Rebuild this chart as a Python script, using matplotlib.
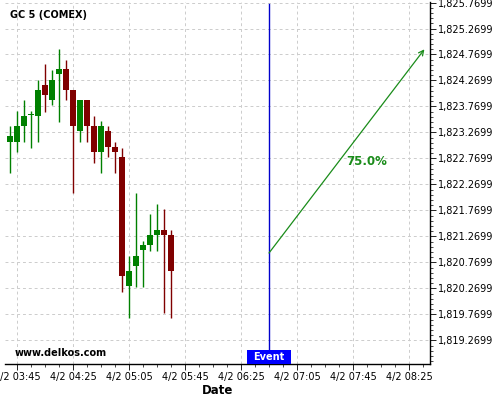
import matplotlib
matplotlib.use("Agg")
import matplotlib.pyplot as plt
import matplotlib.dates as mdates
from matplotlib.ticker import FixedLocator, FuncFormatter
from matplotlib.patches import Rectangle
import matplotlib.transforms as mtransforms
import numpy as np
import datetime as dt

# ---- data ----
start_time = "2023-04-02 03:40"
candle_minutes = 5
opens  = [1823.09, 1823.09, 1823.39, 1823.60, 1823.58, 1824.18, 1823.89, 1824.40,
          1824.49, 1824.08, 1823.30, 1823.89, 1823.39, 1822.90, 1823.30, 1822.99,
          1822.80, 1820.32, 1820.70, 1821.01, 1821.10, 1821.30, 1821.39, 1821.30]
closes = [1823.20, 1823.39, 1823.58, 1823.60, 1824.08, 1823.99, 1824.28, 1824.49,
          1824.08, 1823.39, 1823.89, 1823.39, 1822.90, 1823.39, 1822.99, 1822.90,
          1820.51, 1820.60, 1820.90, 1821.10, 1821.30, 1821.39, 1821.30, 1820.61]
highs  = [1823.39, 1823.69, 1823.89, 1823.68, 1824.28, 1824.58, 1824.48, 1824.87,
          1824.67, 1824.08, 1823.89, 1823.89, 1823.58, 1823.49, 1823.39, 1823.08,
          1822.98, 1820.90, 1822.10, 1821.19, 1821.70, 1821.89, 1821.79, 1821.39]
lows   = [1822.48, 1822.89, 1823.08, 1822.98, 1823.08, 1823.67, 1823.79, 1823.48,
          1823.89, 1822.10, 1823.08, 1823.08, 1822.69, 1822.48, 1822.79, 1822.48,
          1820.19, 1819.69, 1820.30, 1820.30, 1820.99, 1820.99, 1819.80, 1819.69]

event_time = "2023-04-02 06:45"
arrow_end_time = "2023-04-02 08:36"
arrow_start_value = 1820.95
arrow_end_value = 1824.87
probability_label = "75.0%"

title = "GC 5 (COMEX)"
watermark = "www.delkos.com"
xlabel = "Date"
event_label = "Event"

ytick_values = [1819.2699 + 0.5 * k for k in range(14)]
yminor_values = [1818.8699 + 0.1 * k for k in range(70)]
xtick_times = ["2023-04-02 03:45", "2023-04-02 04:25", "2023-04-02 05:05",
               "2023-04-02 05:45", "2023-04-02 06:25", "2023-04-02 07:05",
               "2023-04-02 07:45", "2023-04-02 08:25"]
x_range = ("2023-04-02 03:36:26", "2023-04-02 08:40")
y_range = (1818.814, 1825.78)

# ---- helpers ----
def tnum(s):
    fmt = "%Y-%m-%d %H:%M:%S" if s.count(":") == 2 else "%Y-%m-%d %H:%M"
    return mdates.date2num(dt.datetime.strptime(s, fmt))

t0 = tnum(start_time)
step = candle_minutes / 1440.0
times = np.array([t0 + i * step for i in range(len(opens))])
opens = np.array(opens); closes = np.array(closes)
highs = np.array(highs); lows = np.array(lows)

GREEN = "#008000"
RED = "#800000"

fig = plt.figure(figsize=(5, 4), dpi=100)
ax = fig.add_axes([0.01, 0.09, 0.85, 0.905])

colors = [GREEN if c >= o else RED for o, c in zip(opens, closes)]
ax.vlines(times, lows, highs, colors=colors, linewidth=1.0, zorder=3)
bottoms = np.minimum(opens, closes)
heights = np.maximum(np.abs(closes - opens), 0.02)
ax.bar(times, heights, bottom=bottoms, width=3.6 / 1440.0, color=colors,
       edgecolor=colors, linewidth=0, zorder=4)

# event line
te = tnum(event_time)
ax.axvline(te, ymax=0.995, color="#0000cc", linewidth=1.0, zorder=5)

# arrow
ta = tnum(arrow_end_time)
ax.annotate("", xy=(ta, arrow_end_value), xytext=(te, arrow_start_value),
            arrowprops=dict(arrowstyle="->", color="#1a8c1a", lw=0.9,
                            shrinkA=0, shrinkB=0, mutation_scale=9), zorder=6)
ax.text((te + ta) / 2, (arrow_start_value + arrow_end_value) / 2 - 0.07,
        probability_label, color="#1a8c1a", fontsize=8.5, fontweight="bold",
        ha="left", va="top", zorder=6)

# event label box
trans = mtransforms.blended_transform_factory(ax.transData, ax.transAxes)
box_w = 31.5 / 1440.0
ax.add_patch(Rectangle((te - box_w / 2 - 0.3 / 1440, 0.0), box_w, 0.039,
                       transform=trans, facecolor="#0000ff", edgecolor="none",
                       zorder=7, clip_on=False))
ax.text(te - 0.5 / 1440, 0.0195, event_label, transform=trans, color="white",
        fontsize=7, fontweight="bold", ha="center", va="center", zorder=8)

# axes setup
ax.set_xlim(tnum(x_range[0]), tnum(x_range[1]))
ax.set_ylim(*y_range)

ax.yaxis.tick_right()
ax.yaxis.set_major_locator(FixedLocator(ytick_values))
ax.yaxis.set_minor_locator(FixedLocator(yminor_values))
ax.yaxis.set_major_formatter(FuncFormatter(lambda v, p: f"{v:,.4f}"))

xt = [tnum(s) for s in xtick_times]
ax.xaxis.set_major_locator(FixedLocator(xt))
xminor = [xt[0] + k * 10 / 1440.0 for k in range(-1, 32)]
ax.xaxis.set_minor_locator(FixedLocator(xminor))
def xfmt(v, p):
    d = mdates.num2date(v)
    return f"{d.month}/{d.day} {d:%H:%M}"
ax.xaxis.set_major_formatter(FuncFormatter(xfmt))

ax.tick_params(axis="both", which="major", labelsize=7, length=4, width=0.6,
               direction="out", pad=2)
ax.tick_params(axis="both", which="minor", length=2, width=0.5, direction="out")

for s in ["top", "left"]:
    ax.spines[s].set_visible(False)
ax.spines["bottom"].set_linewidth(1.0)
ax.spines["right"].set_linewidth(1.0)

ax.grid(True, which="major", color="#cccccc", linestyle=(0, (3, 3)), linewidth=0.7)
ax.set_axisbelow(True)

ax.set_xlabel(xlabel, fontsize=8.5, fontweight="bold", labelpad=1)

ax.text(0.012, 0.963, title, transform=ax.transAxes, fontsize=7, fontweight="bold",
        ha="left", va="center")
ax.text(0.023, 0.03, watermark, transform=ax.transAxes, fontsize=7,
        fontweight="bold", ha="left", va="center")

fig.savefig("out.png", dpi=100)
